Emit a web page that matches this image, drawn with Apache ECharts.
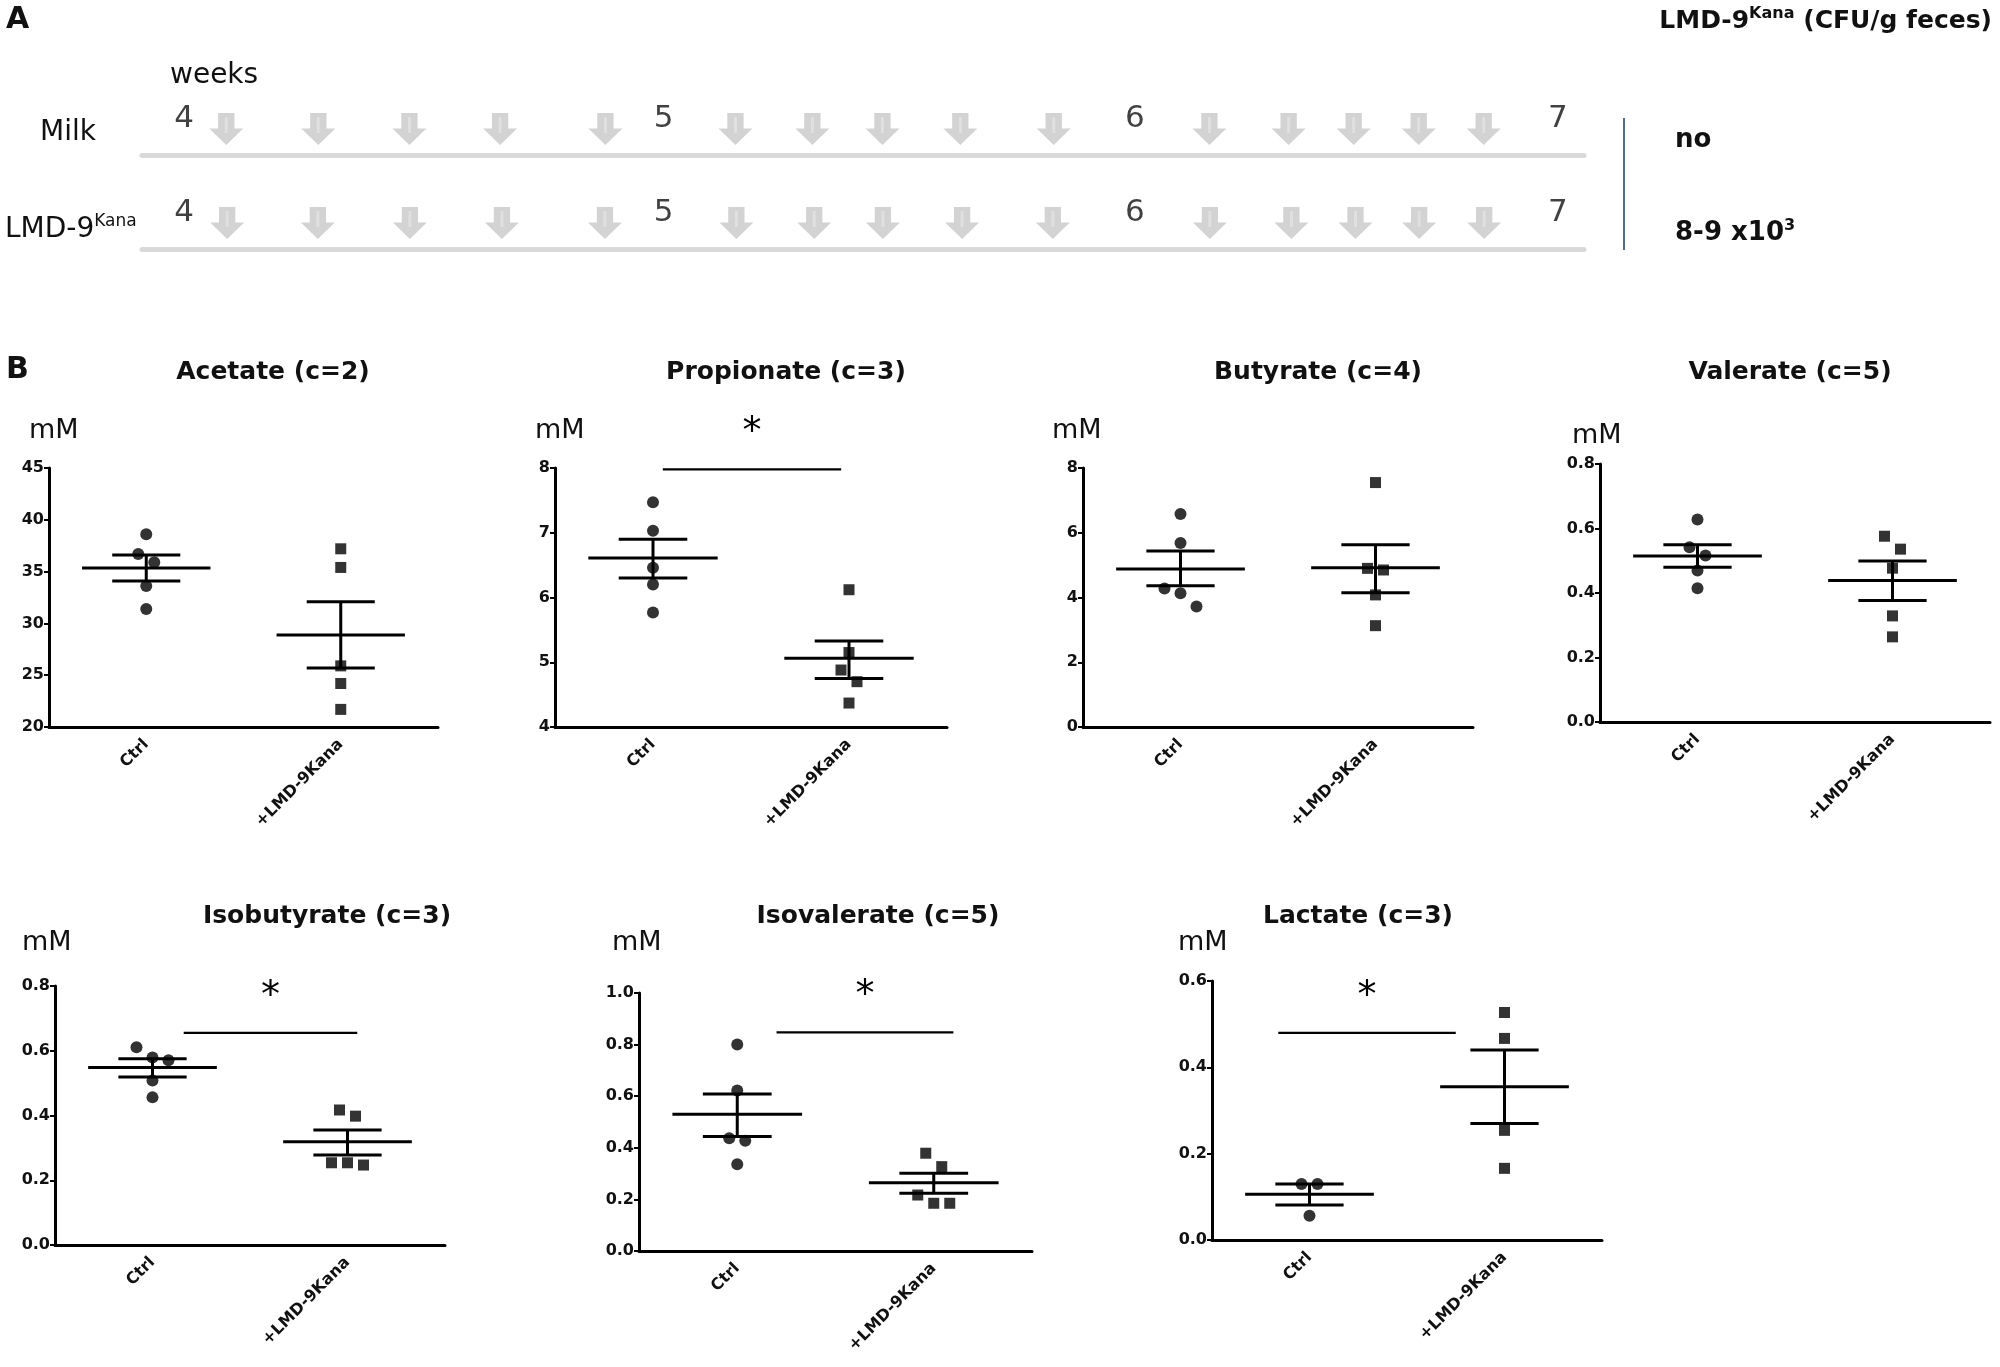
<!DOCTYPE html>
<html>
<head>
<meta charset="utf-8">
<script src="https://cdn.jsdelivr.net/npm/echarts@6/dist/echarts.min.js"></script>
<style>
  html, body { margin: 0; padding: 0; background: #fff; }
  #chart { width: 2000px; height: 1367px; }
</style>
</head>
<body>
<div id="chart"></div>
<script>
// Panel A: dosing timeline, x in weeks of age
const weekLabels = ['4', '5', '6', '7']
const weekLabelPos = [4.0, 5.047, 6.076, 7.0]
const timelineSpan = [3.908, 7.057]
const milkDoses = [4.092, 4.293, 4.492, 4.690, 4.920, 5.204, 5.372, 5.525, 5.695, 5.899, 6.239, 6.412, 6.554, 6.696, 6.838]
const lmdDoses = [4.094, 4.292, 4.493, 4.694, 4.919, 5.206, 5.376, 5.526, 5.699, 5.897, 6.240, 6.418, 6.558, 6.697, 6.839]

// Panel B: organic acids, mM
const groups = ['Ctrl', '+LMD-9Kana']
const acidNames = ['Acetate (c=2)', 'Propionate (c=3)', 'Butyrate (c=4)', 'Valerate (c=5)',
  'Isobutyrate (c=3)', 'Isovalerate (c=5)', 'Lactate (c=3)']
const yMin = [20, 4, 0, 0, 0, 0, 0]
const yMax = [45, 8, 8, 0.8, 0.8, 1.0, 0.6]
const yStep = [5, 1, 2, 0.2, 0.2, 0.2, 0.2]
const yDecimals = [0, 0, 0, 1, 1, 1, 1]

const ctrlPoints = [
  [38.6, 36.7, 35.9, 33.6, 31.4],
  [7.47, 7.03, 6.46, 6.20, 5.77],
  [6.58, 5.68, 4.28, 4.13, 3.72],
  [0.628, 0.542, 0.516, 0.470, 0.415],
  [0.611, 0.579, 0.571, 0.508, 0.456],
  [0.800, 0.622, 0.437, 0.427, 0.336],
  [0.130, 0.130, 0.056]
]
const lmdPoints = [
  [37.2, 35.4, 25.9, 24.2, 21.7],
  [6.12, 5.15, 4.88, 4.70, 4.37],
  [7.55, 4.90, 4.85, 4.08, 3.13],
  [0.576, 0.536, 0.477, 0.329, 0.264],
  [0.417, 0.398, 0.254, 0.247, 0.254],
  [0.379, 0.327, 0.217, 0.185, 0.185],
  [0.527, 0.467, 0.254, 0.166]
]
const ctrlMean = [35.35, 6.61, 4.88, 0.515, 0.548, 0.530, 0.106]
const ctrlSemLo = [34.1, 6.30, 4.36, 0.480, 0.519, 0.444, 0.081]
const ctrlSemHi = [36.6, 6.90, 5.44, 0.550, 0.575, 0.609, 0.130]
const lmdMean = [28.87, 5.06, 4.92, 0.439, 0.319, 0.265, 0.355]
const lmdSemLo = [25.7, 4.75, 4.15, 0.377, 0.278, 0.224, 0.27]
const lmdSemHi = [32.1, 5.33, 5.63, 0.499, 0.355, 0.301, 0.44]

// significance bars (x in category units, 0 = Ctrl, 1 = +LMD-9Kana)
const sigLevel = [null, 7.98, null, null, 0.655, 0.847, 0.48]
const sigFrom = [null, 0.05, null, null, 0.16, 0.20, -0.16]
const sigTo = [null, 0.96, null, null, 1.05, 1.10, 0.75]

// layout (px): grid box, title centre, "mM" left/middle
const layout = [
  { grid: [49, 468, 389, 259], title: [273, 372], unit: [29, 431] },
  { grid: [555, 468, 392, 259], title: [786, 372], unit: [535, 431] },
  { grid: [1083, 468, 390, 259], title: [1318, 372], unit: [1052, 431] },
  { grid: [1600, 464, 390, 258], title: [1790, 372], unit: [1572, 436] },
  { grid: [55, 986, 390, 259], title: [327, 916], unit: [22, 943] },
  { grid: [639, 993, 393, 258], title: [878, 916], unit: [612, 943] },
  { grid: [1212, 981, 390, 259], title: [1358, 916], unit: [1178, 943] }
]

const FONT = 'DejaVu Sans'
const INK = '#111'

// Prism-like horizontal spread for points that would overlap
function swarm(values, pxPerUnit, pxPerCat) {
  const order = values.map(function (v, i) { return i }).sort(function (a, b) { return values[b] - values[a] })
  const offs = values.map(function () { return 0 })
  let cluster = [order[0]]
  function flush() {
    const n = cluster.length
    cluster.forEach(function (k, j) { offs[k] = (j - (n - 1) / 2) * 16 / pxPerCat })
  }
  for (let j = 1; j < order.length; j++) {
    if ((values[order[j - 1]] - values[order[j]]) * pxPerUnit < 13.5) cluster.push(order[j])
    else { flush(); cluster = [order[j]] }
  }
  flush()
  return offs
}

function txt(x, y, text, size, weight, align, rich) {
  return {
    type: 'text', x: x, y: y, silent: true,
    style: {
      text: text, fontSize: size, fontWeight: weight || 'normal', fontFamily: FONT, fill: INK,
      align: align || 'left', verticalAlign: 'middle',
      textAlign: align || 'left', textVerticalAlign: 'middle',
      rich: rich
    }
  }
}

const grid = []
const xAxis = []
const yAxis = []
const series = []
const graphic = []

const axisLineStyle = { color: '#000', width: 3 }

acidNames.forEach(function (name, i) {
  const L = layout[i]
  grid.push({ left: L.grid[0], top: L.grid[1], width: L.grid[2], height: L.grid[3] })
  xAxis.push({
    gridIndex: i, type: 'category', data: groups, boundaryGap: true,
    axisLine: { onZero: false, lineStyle: axisLineStyle },
    axisTick: { alignWithLabel: true, length: 6, lineStyle: axisLineStyle },
    axisLabel: { rotate: 45, margin: 15, interval: 0, fontSize: 16, fontWeight: 'bold', fontFamily: FONT, color: INK },
    splitLine: { show: false }
  })
  xAxis.push({ gridIndex: i, type: 'value', min: -0.5, max: 1.5, show: false })
  yAxis.push({
    gridIndex: i, type: 'value', min: yMin[i], max: yMax[i], interval: yStep[i],
    axisLine: { show: true, onZero: false, lineStyle: axisLineStyle },
    axisTick: { show: true, length: 5, lineStyle: { color: '#000', width: 2 } },
    axisLabel: {
      margin: 5, fontSize: 16, fontWeight: 'bold', fontFamily: FONT, color: INK,
      formatter: function (v) { return v.toFixed(yDecimals[i]) }
    },
    splitLine: { show: false }
  })

  const pxPerUnit = L.grid[3] / (yMax[i] - yMin[i])
  const pxPerCat = L.grid[2] / 2
  const cOff = swarm(ctrlPoints[i], pxPerUnit, pxPerCat)
  const lOff = swarm(lmdPoints[i], pxPerUnit, pxPerCat)

  series.push({
    type: 'scatter', xAxisIndex: 2 * i + 1, yAxisIndex: i, symbol: 'circle', symbolSize: 12,
    itemStyle: { color: '#000' }, silent: true, clip: false,
    data: ctrlPoints[i].map(function (v, k) { return [0 + cOff[k], v] })
  })
  series.push({
    type: 'scatter', xAxisIndex: 2 * i + 1, yAxisIndex: i, symbol: 'rect', symbolSize: 11,
    itemStyle: { color: '#000' }, silent: true, clip: false,
    data: lmdPoints[i].map(function (v, k) { return [1 + lOff[k], v] })
  })
  series.push({
    type: 'custom', xAxisIndex: 2 * i + 1, yAxisIndex: i, silent: true, clip: false,
    encode: { x: 0, y: [1, 2, 3] },
    data: [[0, ctrlMean[i], ctrlSemLo[i], ctrlSemHi[i]], [1, lmdMean[i], lmdSemLo[i], lmdSemHi[i]]],
    renderItem: function (params, api) {
      const x = api.value(0)
      const pm = api.coord([x, api.value(1)])
      const pl = api.coord([x, api.value(2)])
      const ph = api.coord([x, api.value(3)])
      const unit = api.size([1, 0])[0]
      const mh = 0.33 * unit
      const ch = 0.175 * unit
      const st = { stroke: '#000', lineWidth: 3 }
      return {
        type: 'group', children: [
          { type: 'line', shape: { x1: pm[0] - mh, y1: pm[1], x2: pm[0] + mh, y2: pm[1] }, style: st },
          { type: 'line', shape: { x1: pl[0] - ch, y1: pl[1], x2: pl[0] + ch, y2: pl[1] }, style: st },
          { type: 'line', shape: { x1: ph[0] - ch, y1: ph[1], x2: ph[0] + ch, y2: ph[1] }, style: st },
          { type: 'line', shape: { x1: pl[0], y1: pl[1], x2: ph[0], y2: ph[1] }, style: st }
        ]
      }
    }
  })
  if (sigLevel[i] != null) {
    series.push({
      type: 'custom', xAxisIndex: 2 * i + 1, yAxisIndex: i, silent: true, clip: false,
      encode: { x: [0, 1], y: 2 },
      data: [[sigFrom[i], sigTo[i], sigLevel[i]]],
      renderItem: function (params, api) {
        const a = api.coord([api.value(0), api.value(2)])
        const b = api.coord([api.value(1), api.value(2)])
        return {
          type: 'group', children: [
            { type: 'line', shape: { x1: a[0], y1: a[1], x2: b[0], y2: b[1] }, style: { stroke: '#000', lineWidth: 2.2 } },
            {
              type: 'text', x: (a[0] + b[0]) / 2, y: a[1] - 36,
              style: { text: '*', fontSize: 38, fontFamily: FONT, fill: '#000', align: 'center', verticalAlign: 'middle', textAlign: 'center', textVerticalAlign: 'middle' }
            }
          ]
        }
      }
    })
  }

  graphic.push(txt(L.title[0], L.title[1], name, 25, 'bold', 'center'))
  graphic.push(txt(L.unit[0], L.unit[1], 'mM', 27, 'normal', 'left'))
})

// Panel A grids: one per treatment row, axis line = grey timeline bar
const rows = [
  { grid: [142, 95, 1442, 60], doses: milkDoses },
  { grid: [142, 189, 1442, 60], doses: lmdDoses }
]
const arrowPath = 'path://M2.6,0 L7.4,0 L7.4,4.8 L10,4.8 L5,10 L0,4.8 L2.6,4.8 Z'
rows.forEach(function (r, j) {
  const gi = acidNames.length + j
  grid.push({ left: r.grid[0], top: r.grid[1], width: r.grid[2], height: r.grid[3] })
  xAxis.push({
    gridIndex: gi, type: 'value', min: timelineSpan[0], max: timelineSpan[1],
    axisLine: { show: true, onZero: false, lineStyle: { color: '#d9d9d9', width: 5 } },
    axisTick: { show: false }, axisLabel: { show: false }, splitLine: { show: false }
  })
  yAxis.push({ gridIndex: gi, type: 'value', min: 0, max: 1, show: false })
  const xi = xAxis.length - 1
  const yi = yAxis.length - 1
  series.push({
    type: 'scatter', xAxisIndex: xi, yAxisIndex: yi, symbol: arrowPath, symbolSize: [34, 32],
    itemStyle: { color: '#c8c8c8' }, silent: true,
    data: r.doses.map(function (w) { return [w, 0.433] })
  })
  series.push({
    type: 'scatter', xAxisIndex: xi, yAxisIndex: yi, symbol: 'rect', symbolSize: [3, 16],
    symbolOffset: [0, -4], itemStyle: { color: '#e4e4e4' }, silent: true,
    data: r.doses.map(function (w) { return [w, 0.433] })
  })
  series.push({
    type: 'scatter', xAxisIndex: xi, yAxisIndex: yi, symbolSize: 1,
    itemStyle: { color: 'transparent' }, silent: true,
    label: { show: true, position: 'inside', fontSize: 31, fontFamily: FONT, color: INK, formatter: '{b}' },
    data: weekLabelPos.map(function (w, k) { return { name: weekLabels[k], value: [w, 0.6] } })
  })
})

// static texts
graphic.push(txt(6, 20, 'A', 30, 'bold'))
graphic.push(txt(6, 370, 'B', 30, 'bold'))
graphic.push(txt(170, 76, 'weeks', 28))
graphic.push(txt(40, 133, 'Milk', 28))
graphic.push(txt(5, 230, '{m|LMD-9}{s|Kana}', 28, 'normal', 'left', {
  m: { fontSize: 28, fontFamily: FONT, color: INK, lineHeight: 34 },
  s: { fontSize: 17, fontFamily: FONT, color: INK, verticalAlign: 'top', lineHeight: 20 }
}))
graphic.push(txt(1992, 21, '{m|LMD-9}{s|Kana}{m| (CFU/g feces)}', 25, 'bold', 'right', {
  m: { fontSize: 25, fontWeight: 'bold', fontFamily: FONT, color: INK, lineHeight: 30 },
  s: { fontSize: 16, fontWeight: 'bold', fontFamily: FONT, color: INK, verticalAlign: 'top', lineHeight: 18 }
}))
graphic.push(txt(1675, 140, 'no', 26, 'bold'))
graphic.push(txt(1675, 233, '{m|8-9 x10}{s|3}', 26, 'bold', 'left', {
  m: { fontSize: 26, fontWeight: 'bold', fontFamily: FONT, color: INK, lineHeight: 30 },
  s: { fontSize: 16, fontWeight: 'bold', fontFamily: FONT, color: INK, verticalAlign: 'top', lineHeight: 18 }
}))
graphic.push({
  type: 'line', silent: true,
  shape: { x1: 1624, y1: 118, x2: 1624, y2: 250 },
  style: { stroke: '#4f6f8f', lineWidth: 2 }
})

const chart = echarts.init(document.getElementById('chart'))
chart.setOption({
  backgroundColor: '#fff',
  animation: false,
  grid: grid,
  xAxis: xAxis,
  yAxis: yAxis,
  series: series,
  graphic: { elements: graphic }
})
</script>
</body>
</html>
